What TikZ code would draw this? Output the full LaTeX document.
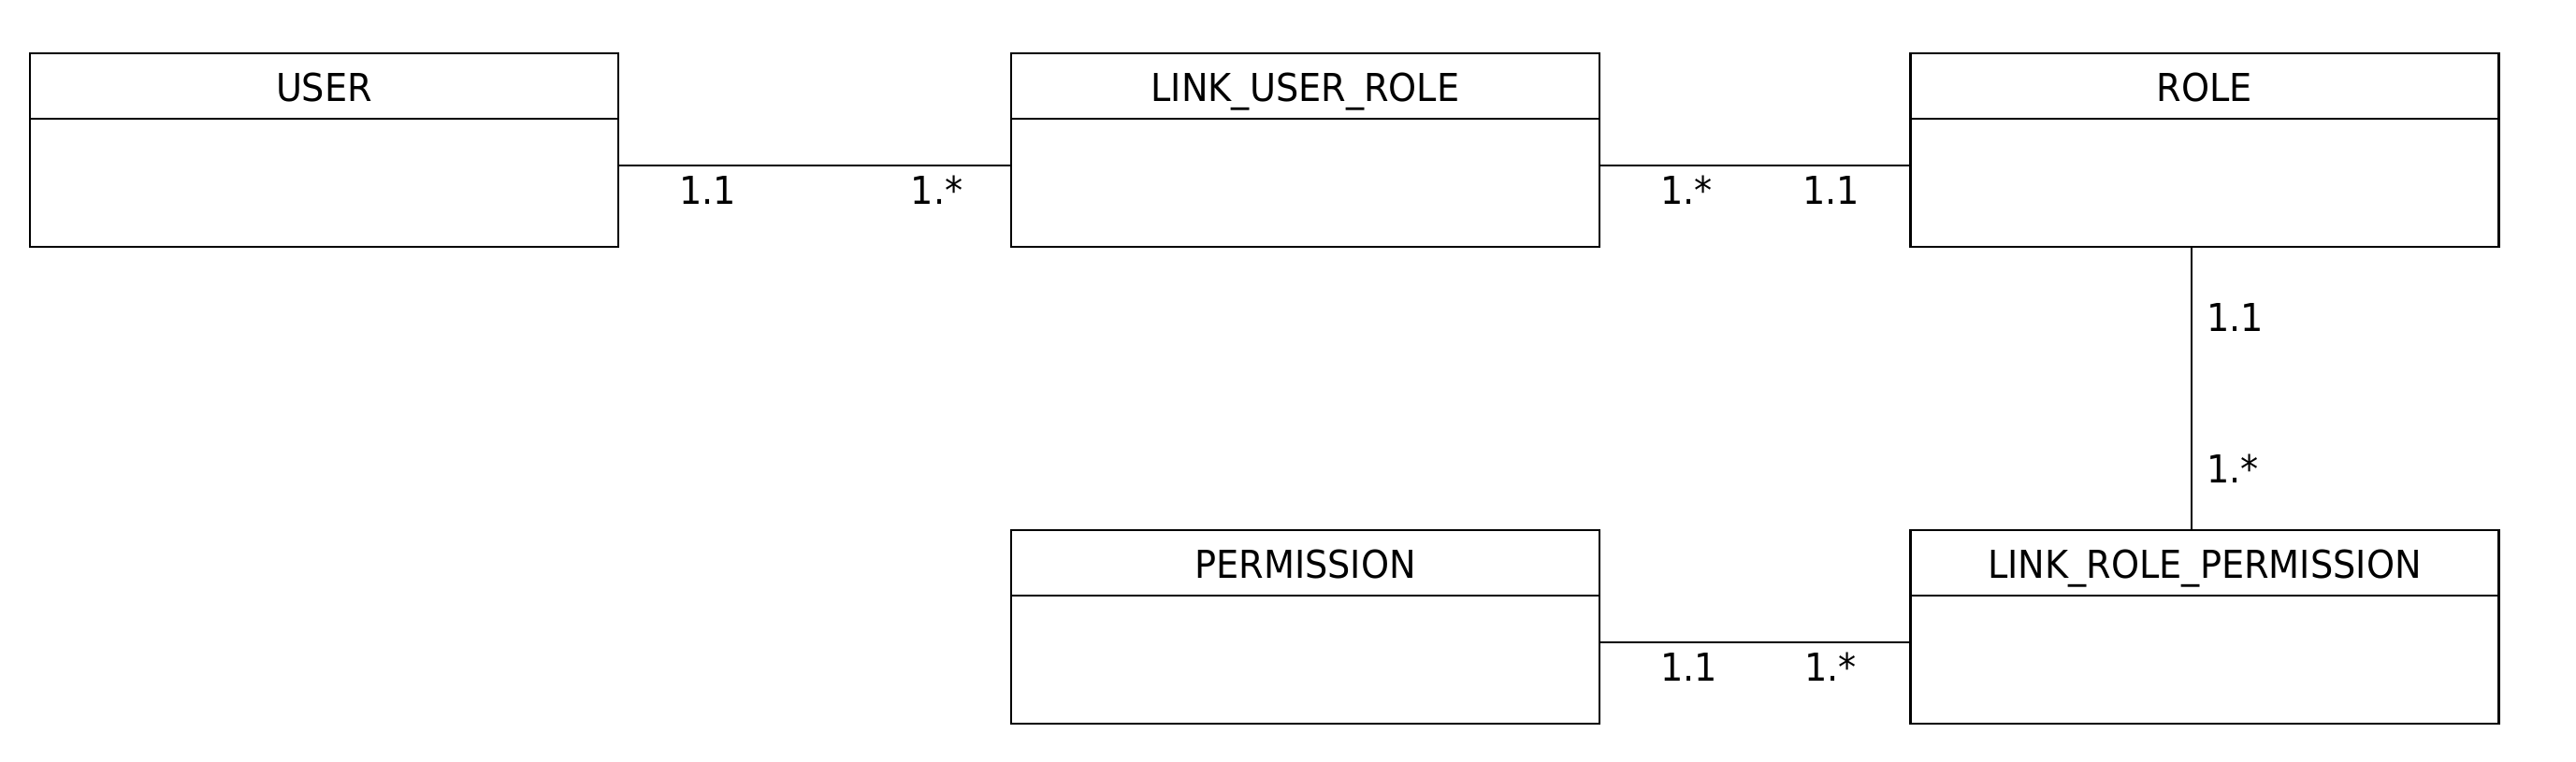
\documentclass[tikz,border=0pt]{standalone}
\usepackage{fontspec}
\setmainfont{DejaVu Sans}[FakeStretch=0.93]
\usepackage{tikz}
\usetikzlibrary{positioning}

\begin{document}
\begin{tikzpicture}
	\tikzset{
		entity/.style={draw,line width=0.8pt,minimum width=6.29cm,minimum height=2.07cm,inner sep=0pt,
			path picture={\draw[line width=0.8pt] ([yshift=-0.70cm]path picture bounding box.north west) -- ([yshift=-0.70cm]path picture bounding box.north east);},
			label={[anchor=base,inner sep=0pt,yshift=-0.53cm,font=\fontsize{11.7}{14}\selectfont]north:#1}},
		assoc/.style={line width=0.6pt},
		mult/.style={inner sep=0pt,font=\fontsize{11.7}{14}\selectfont}
	}
	\useasboundingbox (0,0) rectangle (27.54,-8.14);

	%% classes
	\node[entity=USER] (user) at (3.465,-1.605) {};
	\node[entity=LINK\_USER\_ROLE] (userrole) at (13.955,-1.605) {};
	\node[entity=ROLE] (role) at (23.57,-1.605) {};
	\node[entity=PERMISSION] (perm) at (13.955,-6.705) {};
	\node[entity=LINK\_ROLE\_PERMISSION] (roleperm) at (23.57,-6.705) {};

	%% associations
	\draw[assoc] ([yshift=-0.165cm]user.east) -- ([yshift=-0.165cm]userrole.west)
		node[mult,pos=0,anchor=base west,xshift=0.63cm,yshift=-0.41cm] {1.1}
		node[mult,pos=1,anchor=base east,xshift=-0.49cm,yshift=-0.41cm] {1.*};
	\draw[assoc] ([yshift=-0.165cm]userrole.east) -- ([yshift=-0.165cm]role.west)
		node[mult,pos=0,anchor=base west,xshift=0.63cm,yshift=-0.41cm] {1.*}
		node[mult,pos=1,anchor=base east,xshift=-0.52cm,yshift=-0.41cm] {1.1};
	\draw[assoc] ([xshift=-0.14cm]role.south) -- ([xshift=-0.14cm]roleperm.north)
		node[mult,pos=0,anchor=base west,xshift=0.15cm,yshift=-0.89cm] {1.1}
		node[mult,pos=1,anchor=base west,xshift=0.15cm,yshift=0.49cm] {1.*};
	\draw[assoc] ([yshift=-0.165cm]perm.east) -- ([yshift=-0.165cm]roleperm.west)
		node[mult,pos=0,anchor=base west,xshift=0.63cm,yshift=-0.41cm] {1.1}
		node[mult,pos=1,anchor=base east,xshift=-0.55cm,yshift=-0.41cm] {1.*};
\end{tikzpicture}
\end{document}
